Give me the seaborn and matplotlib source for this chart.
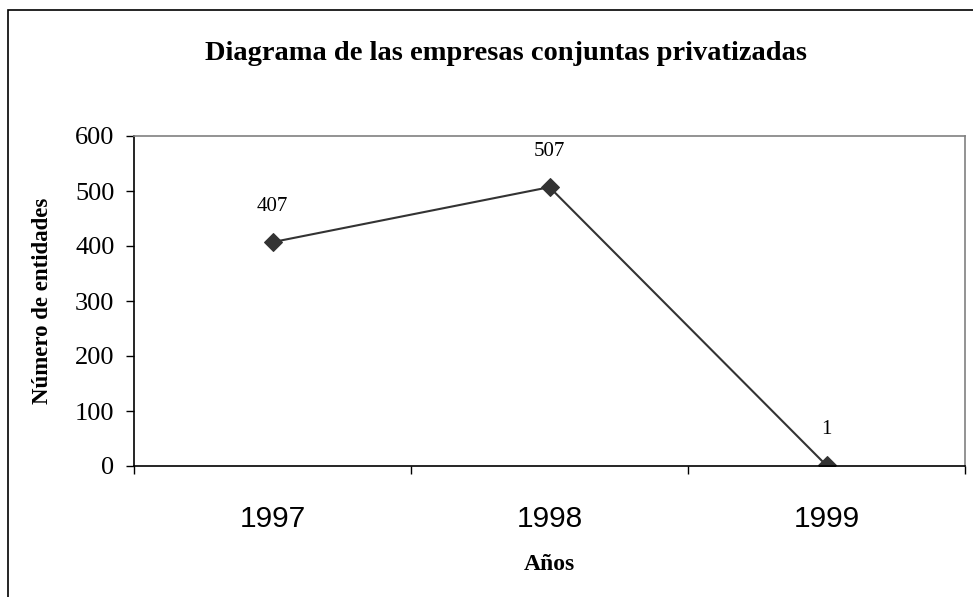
import numpy as np
import pandas as pd
import matplotlib
matplotlib.use("Agg")
import matplotlib.pyplot as plt
import matplotlib.patches as mpatches
import seaborn as sns

years = ["1997", "1998", "1999"]
values = [407, 507, 1]
yticks = [0, 100, 200, 300, 400, 500, 600]

title = "Diagrama de las empresas conjuntas privatizadas"
ylabel = "Número de entidades"
xlabel = "Años"

sns.set_theme(style="white")
plt.rcParams['font.family'] = ['Liberation Serif', 'DejaVu Serif']
plt.rcParams['text.color'] = 'black'
plt.rcParams['axes.labelcolor'] = 'black'
plt.rcParams['xtick.color'] = 'black'
plt.rcParams['ytick.color'] = 'black'

W, H = 973, 597
fig = plt.figure(figsize=(W / 100, H / 100), dpi=100)
ax = fig.add_axes([134 / W, 1 - 466 / H, (965 - 134) / W, (466 - 136) / H])

df = pd.DataFrame({"pos": np.arange(len(years)), "val": values})
sns.lineplot(data=df, x="pos", y="val", ax=ax, color="#333333", lw=1.5,
             marker="D", markersize=9, markeredgecolor="#333333")

for i, v in enumerate(values):
    ax.annotate(str(v), (i, v), xytext=(0, 19), textcoords="offset points",
                ha="center", va="bottom", fontsize=15, color="black",
                family="Liberation Serif")

ax.set_xlim(-0.5, len(years) - 0.5)
ax.set_ylim(0, 600)
ax.set_yticks(yticks)
ax.set_yticklabels([str(t) for t in yticks], fontsize=19, family="Liberation Serif")
ax.set_xticks(np.arange(-0.5, len(years), 1.0))
ax.set_xticklabels([])
ax.set_xticks(np.arange(len(years)), minor=True)
ax.set_xticklabels(years, minor=True, fontsize=21.5, family="Liberation Sans")
ax.tick_params(axis="x", which="minor", length=0, pad=28)
ax.tick_params(axis="x", which="major", direction="out", length=6, width=1, color="black", bottom=True)
ax.tick_params(axis="y", direction="out", length=6, width=1, color="black", left=True, pad=8)
ax.grid(False)

ax.spines["left"].set_color("black")
ax.spines["bottom"].set_color("black")
ax.spines["top"].set_color("#808080")
ax.spines["right"].set_color("#808080")
for s in ax.spines.values():
    s.set_linewidth(1.2)

ax.set_xlabel(xlabel, fontsize=17, fontweight="bold", family="Liberation Serif")
ax.set_ylabel(ylabel, fontsize=16.5, fontweight="bold", family="Liberation Serif")
ax.xaxis.set_label_coords(0.5, -(565 - 466) / (466 - 136))
ax.xaxis.label.set_va("center")
ax.yaxis.set_label_coords(-(134 - 43) / (965 - 134), 0.5)
ax.yaxis.label.set_va("center")

fig.text(506 / W, 1 - 54 / H, title, ha="center", va="center",
         fontsize=20.5, fontweight="bold", family="Liberation Serif", color="black")

rect = mpatches.Rectangle((8 / W, -0.05), 1.0, 1 - 10 / H + 0.05, transform=fig.transFigure,
                          fill=False, edgecolor="black", lw=1.2, clip_on=False)
fig.patches.append(rect)

fig.savefig("out.png", dpi=100)
